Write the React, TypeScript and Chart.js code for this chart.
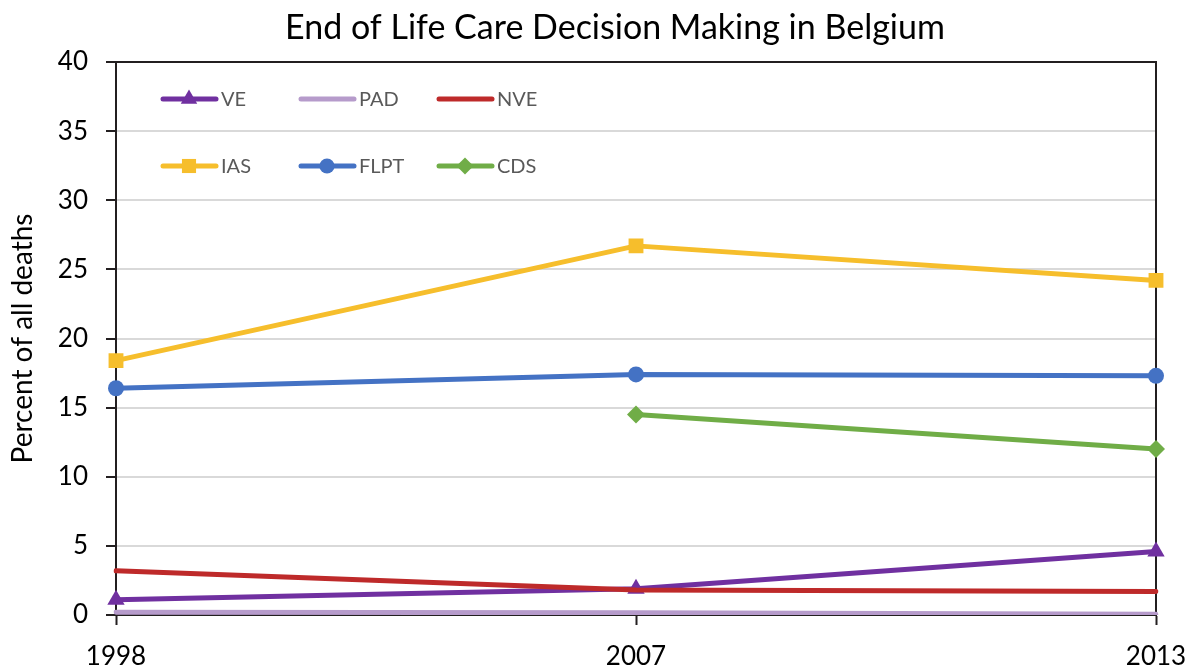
import React, { useEffect, useRef } from 'react';
import { Chart, registerables } from 'chart.js';

Chart.register(...registerables);

const FONT = 'Lato, "Noto Sans", sans-serif';

const titleText = 'End of Life Care Decision Making in Belgium';
const yAxisTitle = 'Percent of all deaths';
const years = ['1998', '2007', '2013'];
const seriesNames = ['VE', 'PAD', 'NVE', 'IAS', 'FLPT', 'CDS'];
const veValues = [1.1, 1.9, 4.6];
const padValues = [0.2, 0.17, 0.05];
const nveValues = [3.2, 1.8, 1.7];
const iasValues = [18.4, 26.7, 24.2];
const flptValues = [16.4, 17.4, 17.3];
const cdsValues: (number | null)[] = [null, 14.5, 12.0];
const yMin = 0;
const yMax = 40;
const yStep = 5;

const colors = ['#7030A0', '#B69BCB', '#BE2A2A', '#F6BE2C', '#4472C4', '#70AD47'];
const markers = ['triangle', 'none', 'none', 'rect', 'circle', 'rectRot'];
const markerRadius = [10, 0, 0, 10.5, 8, 9];
const valuesList = [veValues, padValues, nveValues, iasValues, flptValues, cdsValues];

function drawMarker(ctx: CanvasRenderingContext2D, style: string, x: number, y: number, r: number, color: string) {
  if (style === 'none') return;
  ctx.save();
  ctx.fillStyle = color;
  ctx.beginPath();
  if (style === 'triangle') {
    ctx.moveTo(x, y - r);
    ctx.lineTo(x + r * Math.sin(Math.PI / 3), y + r * 0.5);
    ctx.lineTo(x - r * Math.sin(Math.PI / 3), y + r * 0.5);
    ctx.closePath();
  } else if (style === 'rect') {
    const s = r * Math.SQRT1_2;
    ctx.rect(x - s, y - s, 2 * s, 2 * s);
  } else if (style === 'circle') {
    ctx.arc(x, y, r, 0, Math.PI * 2);
  } else if (style === 'rectRot') {
    ctx.moveTo(x, y - r);
    ctx.lineTo(x + r, y);
    ctx.lineTo(x, y + r);
    ctx.lineTo(x - r, y);
    ctx.closePath();
  }
  ctx.fill();
  ctx.restore();
}

const decorPlugin = {
  id: 'decor',
  beforeDatasetsDraw(chart: any) {
    const { ctx, chartArea } = chart;
    ctx.save();
    ctx.strokeStyle = '#231F20';
    ctx.lineWidth = 2;
    ctx.beginPath();
    ctx.moveTo(chartArea.left, chartArea.top);
    ctx.lineTo(chartArea.right, chartArea.top);
    ctx.lineTo(chartArea.right, chartArea.bottom);
    ctx.stroke();
    ctx.restore();
  },
  afterDraw(chart: any) {
    const { ctx } = chart;
    ctx.save();
    // title
    ctx.fillStyle = '#000';
    ctx.font = `34px ${FONT}`;
    ctx.textAlign = 'center';
    ctx.textBaseline = 'middle';
    ctx.fillText(titleText, 615, 28);
    // legend
    const colX = [161, 299, 437];
    const rowY = [99, 166];
    ctx.font = `20px ${FONT}`;
    ctx.textAlign = 'left';
    seriesNames.forEach((name, i) => {
      const x0 = colX[i % 3];
      const y = rowY[Math.floor(i / 3)];
      ctx.strokeStyle = colors[i];
      ctx.lineWidth = 5;
      ctx.lineCap = 'round';
      ctx.beginPath();
      ctx.moveTo(x0 + 2, y);
      ctx.lineTo(x0 + 55, y);
      ctx.stroke();
      drawMarker(ctx, markers[i], x0 + 28, y, markerRadius[i] * 0.95, colors[i]);
      ctx.fillStyle = '#595959';
      ctx.textBaseline = 'middle';
      ctx.fillText(name, x0 + 60, y + 1);
    });
    ctx.restore();
  },
};

export default function App() {
  const canvasRef = useRef<HTMLCanvasElement | null>(null);

  useEffect(() => {
    document.body.style.margin = '0';
    const canvas = canvasRef.current;
    if (!canvas) return;
    const datasets = seriesNames.map((name, i) => ({
      label: name,
      data: valuesList[i],
      borderColor: colors[i],
      backgroundColor: colors[i],
      borderWidth: 5,
      borderCapStyle: 'round' as const,
      borderJoinStyle: 'round' as const,
      pointStyle: markers[i] === 'none' ? 'circle' : markers[i],
      pointRadius: markerRadius[i],
      pointHoverRadius: markerRadius[i],
      pointBorderWidth: 0,
      pointBackgroundColor: colors[i],
      tension: 0,
      spanGaps: false,
      order: seriesNames.length - i,
    }));
    const chart = new Chart(canvas, {
      type: 'line',
      data: { labels: years, datasets: datasets as any },
      options: {
        responsive: false,
        animation: false,
        devicePixelRatio: 1,
        layout: { padding: { top: 62, right: 32, left: 0, bottom: 0 } },
        plugins: {
          legend: { display: false },
          title: { display: false },
          tooltip: { enabled: false },
        },
        scales: {
          x: {
            type: 'category',
            offset: false,
            grid: {
              drawOnChartArea: false,
              drawTicks: true,
              tickLength: 10,
              tickColor: '#231F20',
              tickWidth: 2,
            },
            border: { display: true, color: '#231F20', width: 2 },
            ticks: {
              font: { size: 26, family: FONT },
              color: '#000',
              padding: 16,
              maxRotation: 0,
              autoSkip: false,
            },
            afterFit: (s: any) => {
              s.height = 53;
              s.paddingLeft = 0;
              s.paddingRight = 0;
            },
          },
          y: {
            min: yMin,
            max: yMax,
            grid: {
              color: '#D9D9D9',
              lineWidth: 2,
              tickColor: '#231F20',
              tickLength: 10,
              tickWidth: 2,
            },
            border: { display: true, color: '#231F20', width: 2 },
            ticks: {
              stepSize: yStep,
              font: { size: 26, family: FONT },
              color: '#000',
              padding: 18,
            },
            title: {
              display: true,
              text: yAxisTitle,
              font: { size: 28, family: FONT },
              color: '#000',
              padding: { top: 6, bottom: 0 },
            },
            afterFit: (s: any) => {
              s.width = 116;
              s.paddingTop = 0;
              s.paddingBottom = 0;
            },
          },
        },
      },
      plugins: [decorPlugin],
    });
    return () => chart.destroy();
  }, []);

  return (
    <div style={{ width: 1188, height: 668, background: '#fff' }}>
      <canvas ref={canvasRef} width={1188} height={668} style={{ display: 'block' }} />
    </div>
  );
}
